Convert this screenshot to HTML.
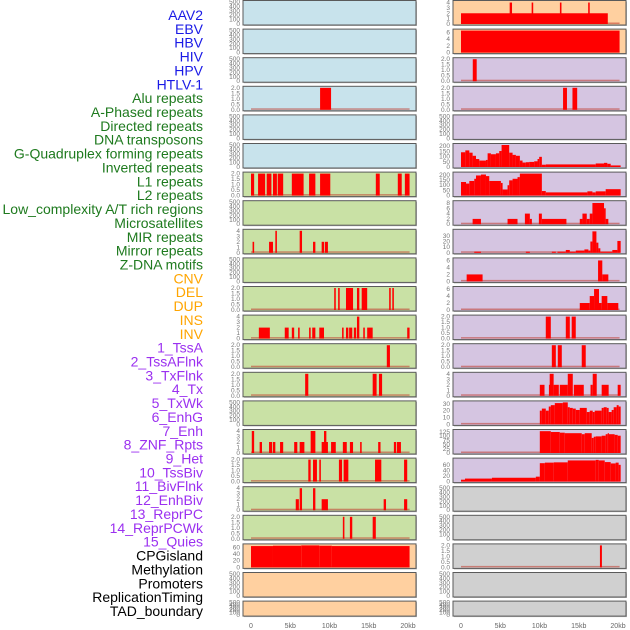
<!DOCTYPE html>
<html><head><meta charset="utf-8">
<style>
html,body{margin:0;padding:0;background:#fff;width:630px;height:630px;overflow:hidden}
svg{display:block}
</style></head>
<body>
<svg id="chart" width="630" height="630" viewBox="0 0 630 630" xmlns="http://www.w3.org/2000/svg"></svg>
<script>
// ---------- data ----------
const trackLabels=["AAV2","EBV","HBV","HIV","HPV","HTLV-1","Alu repeats","A-Phased repeats","Directed repeats","DNA transposons","G-Quadruplex forming repeats","Inverted repeats","L1 repeats","L2 repeats","Low_complexity A/T rich regions","Microsatellites","MIR repeats","Mirror repeats","Z-DNA motifs","CNV","DEL","DUP","INS","INV","1_TssA","2_TssAFlnk","3_TxFlnk","4_Tx","5_TxWk","6_EnhG","7_Enh","8_ZNF_Rpts","9_Het","10_TssBiv","11_BivFlnk","12_EnhBiv","13_ReprPC","14_ReprPCWk","15_Quies","CPGisland","Methylation","Promoters","ReplicationTiming","TAD_boundary"];
const labelGroups=["virus","virus","virus","virus","virus","virus","repeat","repeat","repeat","repeat","repeat","repeat","repeat","repeat","repeat","repeat","repeat","repeat","repeat","sv","sv","sv","sv","sv","chrom","chrom","chrom","chrom","chrom","chrom","chrom","chrom","chrom","chrom","chrom","chrom","chrom","chrom","chrom","other","other","other","other","other"];
const xTickKb=[0,5,10,15,20];
const xTickLabels=["0","5kb","10kb","15kb","20kb"];
const ticksEmpty=[0,100,200,300,400,500];
const ticks2=[0,0.5,1,1.5,2];
const ticks4=[0,1,2,3,4];

// left column bars [startKb,endKb,value]
const lAlu=[[8.8,10.2,2]];
const lRow6=[[0,0.4,2],[0.9,1.8,2],[2.0,2.6,2],[2.8,3.3,2],[3.4,4.1,2],[5.2,6.7,2],[7.4,8.2,2],[8.8,10.1,2],[15.9,16.4,2],[18.7,19.2,2],[19.6,20.2,2]];
const lRow8=[[0.2,0.4,2],[2.3,2.8,2],[3.1,3.3,4],[6.2,6.5,4],[7.9,8.2,2],[9.0,9.3,2],[9.4,9.8,2]];
const lRow10=[[10.6,10.8,2],[11.1,11.3,2],[12.1,13.0,2],[13.5,13.8,2],[14.1,14.8,2],[17.6,17.8,2],[18.0,18.2,2]];
const lRow11=[[1.0,2.4,2],[4.3,4.8,2],[5.2,5.5,2],[6.0,6.2,2],[7.4,7.6,2],[7.8,8.2,2],[8.7,9.3,2],[11.6,11.8,2],[12.1,12.4,2],[12.5,12.9,2],[13.1,13.4,2],[13.5,13.8,4],[14.3,14.5,2],[14.8,15.5,2],[19.9,20.2,2]];
const lRow12=[[17.3,17.7,2]];
const lRow13=[[6.9,7.3,2],[15.5,16.0,2],[16.3,16.7,2]];
const lRow15=[[0.1,0.4,4],[1.1,1.4,2],[2.3,2.7,2],[2.8,3.1,2],[3.7,4.1,2],[5.5,5.9,2],[6.2,6.8,2],[7.6,8.2,4],[9.0,9.8,2],[9.3,9.6,4],[10.2,10.8,2],[11.7,12.2,2],[12.6,13.0,2],[13.9,14.1,2],[16.2,16.5,2],[18.2,18.5,2],[18.6,19.1,2]];
const lRow16=[[7.3,7.6,2],[7.9,8.4,2],[8.7,8.9,2],[11.2,11.6,2],[11.8,12.4,2],[15.8,16.6,2],[19.5,19.9,2]];
const lRow17=[[5.7,6.1,2],[6.2,6.5,4],[7.9,8.2,4],[9.0,9.8,2],[16.9,17.2,2],[19.5,19.9,2]];
const lRow18=[[11.7,11.9,2],[12.6,12.9,2],[15.5,15.9,2]];
const lRow19=[[0,2.8,64],[2.8,6.4,65],[6.4,8.7,66],[8.7,10.3,65],[10.3,20.2,64]];

// right column
const rRow0=[[0,18.7,2],[6.2,6.5,4],[9.0,9.2,4],[12.6,12.8,4],[16.2,16.4,4]];
const rRow1=[[0,20.2,6.5]];
const rRow2=[[1.5,2.0,2]];
const rRow3=[[13.0,13.5,2],[14.2,14.8,2]];
const rRow5Start=[0,0.55,1.06,1.48,1.91,2.33,3.18,3.39,3.81,4.45,4.87,5.17,6.14,6.57,6.99,7.5,7.84,8.26,8.69,9.32,9.75,9.96,10.3,10.8,17.16,18.22,18.64,19.07,20.34];
const rRow5Val=[142,160,138,108,77,62,68,132,123,132,154,215,138,117,108,62,43,46,49,55,77,98,22,25,34,40,31,15];
const rRow6Start=[0,0.64,1.06,1.69,1.91,2.54,3.18,3.6,5.08,5.3,5.93,6.14,6.57,7.2,7.5,10.3,10.8,16.1,16.74,17.16,18.43,20.34];
const rRow6Val=[131,116,141,162,194,203,188,141,122,59,100,147,162,178,219,44,31,41,31,41,62];
const rRow7=[[1.48,2.54,2],[5.93,7.2,2],[8.14,8.77,4],[8.77,9.03,2],[9.92,10.3,4],[10.3,13.43,2],[15.13,15.47,2],[15.47,16.02,4],[16.02,16.4,2],[16.4,16.74,4],[16.74,18.22,8],[18.22,18.43,6],[18.43,18.77,2]];
const rRow8=[[1.69,2.54,2],[8.26,8.77,2],[11.57,12.08,2],[12.29,13.35,2],[13.35,13.86,5],[13.86,14.62,2],[14.62,15.72,4],[15.72,16.23,6],[16.23,16.48,4],[16.48,16.74,20],[16.74,17.25,38],[17.25,17.5,18],[17.5,17.75,8],[17.75,19.28,2],[19.28,19.92,5],[19.92,20.34,21]];
const rRow9=[[0.72,2.75,2],[17.46,18.0,6],[18.0,18.77,2]];
const rRow10=[[15.13,16.4,2],[16.4,16.95,4],[16.95,17.58,6],[17.58,17.92,2],[17.92,18.64,4],[18.64,20.04,2]];
const rRow11=[[10.8,11.44,2],[13.35,13.86,2],[14.1,14.62,2]];
const rRow12=[[11.57,12.08,2],[12.33,12.84,2],[15.38,15.89,2]];
const rRow13=[[10.04,10.64,2],[11.2,11.3,2],[11.3,11.8,4],[11.8,12.46,2],[12.58,13.6,2],[13.6,14.24,4],[14.37,15.64,2],[16.5,16.78,2],[16.78,17.29,4],[17.92,18.81,2],[19.96,20.34,2]];
const rRow14Start=[10.04,10.3,10.8,11.18,11.44,11.95,12.97,13.6,13.86,14.24,14.62,15.13,16.02,16.4,16.78,17.03,17.92,18.18,18.56,18.81,19.19,19.45,19.83,20.08,20.34];
const rRow14Val=[20,23,20,26,28,31,32,25,24,23,21,24,18,20,18,20,24,25,24,18,21,25,28,26];
const rRow15Start=[10.04,11.44,12.58,13.22,15.38,15.76,16.65,16.91,17.16,17.92,18.43,18.69,18.81,19.57,19.96,20.34];
const rRow15Val=[130,125,121,118,112,118,90,97,99,103,112,118,112,108,103];
const rRow16Start=[0,0.51,3.94,9.53,10.04,10.68,11.82,13.6,17.16,17.54,18.31,19.07,19.7,20.08,20.34];
const rRow16Val=[7,11,14,18,67,69,70,77,79,77,71,66,69,61];
const rRow19=[[17.7,17.95,2]];

function steps(st,vals){const o=[];for(let i=0;i<vals.length;i++)o.push([st[i],st[i+1],vals[i]]);return o;}

const BLUE='#c8e3ec',GREEN='#c9e1a5',ORANGE='#ffd0a0',PURPLE='#d5c5e1',GRAY='#d0d0d0';
const leftTracks=[
 {bg:BLUE,ymax:500,ticks:ticksEmpty,bars:null},
 {bg:BLUE,ymax:500,ticks:ticksEmpty,bars:null},
 {bg:BLUE,ymax:500,ticks:ticksEmpty,bars:null},
 {bg:BLUE,ymax:2,ticks:ticks2,bars:lAlu},
 {bg:BLUE,ymax:500,ticks:ticksEmpty,bars:null},
 {bg:BLUE,ymax:500,ticks:ticksEmpty,bars:null},
 {bg:GREEN,ymax:2,ticks:ticks2,bars:lRow6},
 {bg:GREEN,ymax:500,ticks:ticksEmpty,bars:null},
 {bg:GREEN,ymax:4,ticks:ticks4,bars:lRow8},
 {bg:GREEN,ymax:500,ticks:ticksEmpty,bars:null},
 {bg:GREEN,ymax:2,ticks:ticks2,bars:lRow10},
 {bg:GREEN,ymax:4,ticks:ticks4,bars:lRow11},
 {bg:GREEN,ymax:2,ticks:ticks2,bars:lRow12},
 {bg:GREEN,ymax:2,ticks:ticks2,bars:lRow13},
 {bg:GREEN,ymax:500,ticks:ticksEmpty,bars:null},
 {bg:GREEN,ymax:4,ticks:ticks4,bars:lRow15},
 {bg:GREEN,ymax:2,ticks:ticks2,bars:lRow16},
 {bg:GREEN,ymax:4,ticks:ticks4,bars:lRow17},
 {bg:GREEN,ymax:2,ticks:ticks2,bars:lRow18},
 {bg:ORANGE,ymax:66,ticks:[0,20,40,60],bars:lRow19},
 {bg:ORANGE,ymax:500,ticks:ticksEmpty,bars:null},
 {bg:ORANGE,ymax:500,ticks:ticksEmpty,bars:null}
];
const rightTracks=[
 {bg:ORANGE,ymax:4.1,ticks:ticks4,bars:rRow0},
 {bg:ORANGE,ymax:6.5,ticks:[0,2,4,6],bars:rRow1},
 {bg:PURPLE,ymax:2,ticks:ticks2,bars:rRow2},
 {bg:PURPLE,ymax:2,ticks:ticks2,bars:rRow3},
 {bg:PURPLE,ymax:500,ticks:ticksEmpty,bars:null},
 {bg:PURPLE,ymax:212,ticks:[0,50,100,150,200],bars:steps(rRow5Start,rRow5Val)},
 {bg:PURPLE,ymax:212,ticks:[0,50,100,150,200],bars:steps(rRow6Start,rRow6Val)},
 {bg:PURPLE,ymax:8.3,ticks:[0,2,4,6,8],bars:rRow7},
 {bg:PURPLE,ymax:39,ticks:[0,10,20,30],bars:rRow8},
 {bg:PURPLE,ymax:6.3,ticks:[0,2,4,6],bars:rRow9},
 {bg:PURPLE,ymax:6.3,ticks:[0,2,4,6],bars:rRow10},
 {bg:PURPLE,ymax:2,ticks:ticks2,bars:rRow11},
 {bg:PURPLE,ymax:2,ticks:ticks2,bars:rRow12},
 {bg:PURPLE,ymax:4,ticks:ticks4,bars:rRow13},
 {bg:PURPLE,ymax:32,ticks:[0,10,20,30],bars:steps(rRow14Start,rRow14Val)},
 {bg:PURPLE,ymax:131,ticks:[0,25,50,75,100,125],bars:steps(rRow15Start,rRow15Val)},
 {bg:PURPLE,ymax:80,ticks:[0,20,40,60],bars:steps(rRow16Start,rRow16Val)},
 {bg:GRAY,ymax:500,ticks:ticksEmpty,bars:null},
 {bg:GRAY,ymax:500,ticks:ticksEmpty,bars:null},
 {bg:GRAY,ymax:2,ticks:ticks2,bars:rRow19},
 {bg:GRAY,ymax:500,ticks:ticksEmpty,bars:null},
 {bg:GRAY,ymax:500,ticks:ticksEmpty,bars:null}
];

// ---------- drawing ----------
const NS='http://www.w3.org/2000/svg';
const svg=document.getElementById('chart');
function el(tag,attrs,parent){const e=document.createElementNS(NS,tag);for(const k in attrs)e.setAttribute(k,attrs[k]);(parent||svg).appendChild(e);return e;}
const groupColor={virus:'#1a1ae6',repeat:'#1e7a1e',sv:'#ffa500',chrom:'#9b30f0',other:'#000'};

// labels
trackLabels.forEach((t,i)=>{
  const tx=el('text',{x:203,y:20+i*13.86,'text-anchor':'end','font-family':'Liberation Sans, sans-serif','font-size':'14',fill:groupColor[labelGroups[i]]});
  
  
  tx.textContent=t;
});

const PITCH=28.6, KBPX=7.85;
function fmtTick(v,ticks){return ticks===ticks2?v.toFixed(1):String(v);}
function drawColumn(tracks,x0,side){
  tracks.forEach((tr,i)=>{
    const top=i*PITCH+0.5, h=(i===21?15:24.5), w=173;
    const g=el('g',{});
    
    
    el('rect',{x:x0+1,y:top+1,width:w,height:h,fill:'#b8b8b8'},g);
    el('rect',{x:x0,y:top,width:w,height:h,fill:tr.bg,stroke:'#5a5a5a','stroke-width':1},g);
    const pTop=top+1.5, pBot=top+h-1;
    const yS=v=>Math.max(pTop,pBot-v/tr.ymax*(pBot-pTop));
    const xS=kb=>x0+8+kb*KBPX;
    // y ticks
    tr.ticks.forEach(v=>{
      const t=el('text',{x:x0-3,y:yS(v)+2,'text-anchor':'end','font-family':'Liberation Sans, sans-serif','font-size':'6.5',fill:'#777'},g);
      
      
      t.textContent=fmtTick(v,tr.ticks);
    });
    if(tr.bars){
      el('rect',{x:xS(0),y:pBot-1.5,width:xS(20.2)-xS(0),height:1.5,fill:'#c0392b',opacity:0.55},g);
      tr.bars.forEach(b=>{
        const r=el('rect',{x:xS(b[0]),y:yS(b[2]),width:Math.max(1.2,xS(b[1])-xS(b[0])),height:pBot-yS(b[2]),fill:'#ff0000'},g);
        
        
      });
    }
  });
  xTickKb.forEach((kb,j)=>{
    const t=el('text',{x:x0+8+kb*KBPX,y:628,'text-anchor':'middle','font-family':'Liberation Sans, sans-serif','font-size':'7',fill:'#666'});
    
    
    t.textContent=xTickLabels[j];
  });
}
drawColumn(leftTracks,243,'left');
drawColumn(rightTracks,453,'right');
</script>
</body></html>
